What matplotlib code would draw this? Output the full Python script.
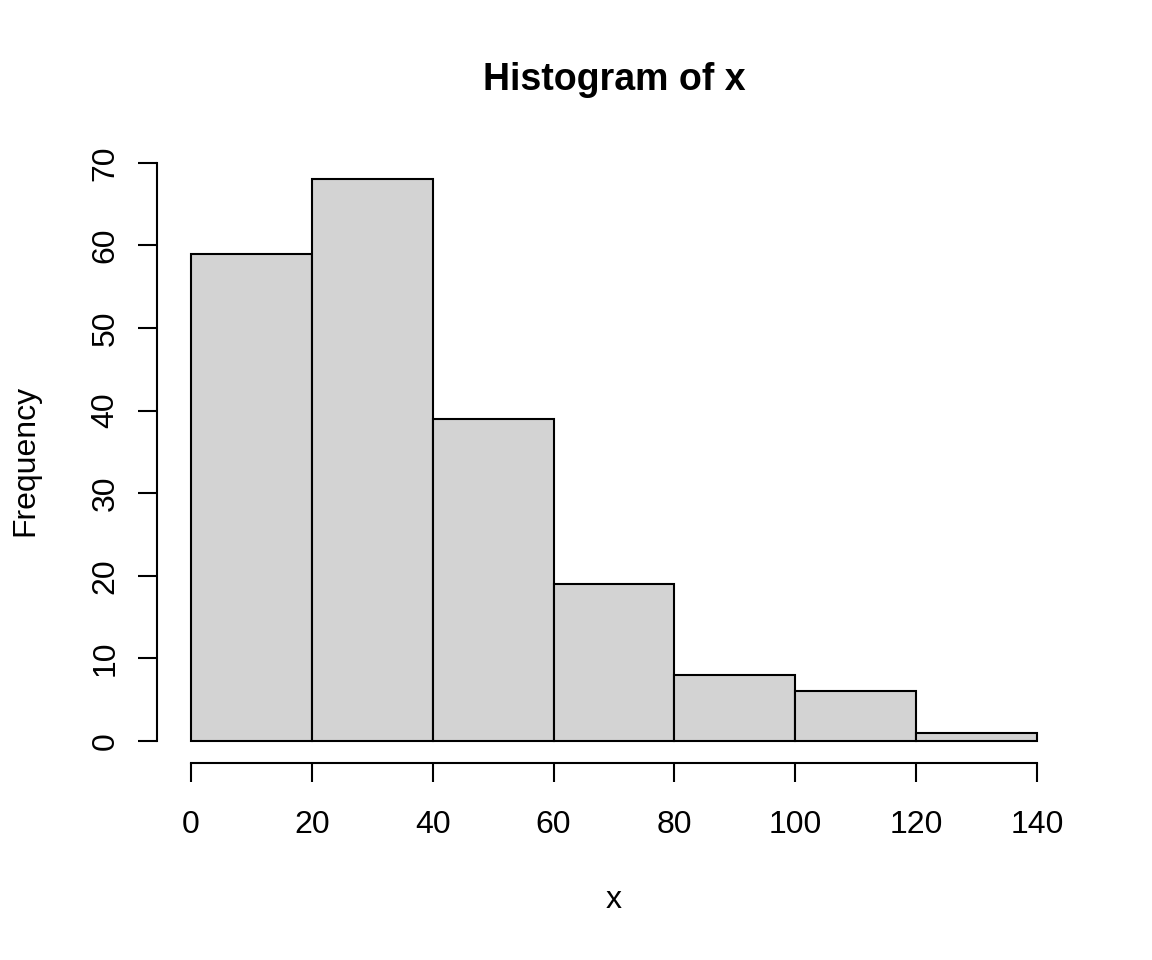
import numpy as np
import matplotlib.pyplot as plt

# counts (bins of width 20)
bin_edges = [0, 20, 40, 60, 80, 100, 120, 140]
counts = [59, 68, 39, 19, 8, 6, 1]
x_ticks = [0, 20, 40, 60, 80, 100, 120, 140]
y_ticks = [0, 10, 20, 30, 40, 50, 60, 70]

plt.rcParams['font.family'] = ['Liberation Sans', 'DejaVu Sans']

fig = plt.figure(figsize=(11.52, 9.6), dpi=100)
# plot region like R: data range plus 4% each side
ax_left, ax_bottom, ax_w, ax_h = 0.1365, 0.2047, 0.7930, 0.6318
ax = fig.add_axes([ax_left, ax_bottom, ax_w, ax_h])

left = np.array(bin_edges[:-1])
widths = np.diff(bin_edges)
ax.bar(left, counts, width=widths, align='edge', color='#D3D3D3',
       edgecolor='black', linewidth=1.5)

xr = bin_edges[-1] - bin_edges[0]
ax.set_xlim(bin_edges[0] - 0.04 * xr, bin_edges[-1] + 0.04 * xr)
ymax = max(counts)
ax.set_ylim(-0.04 * ymax, ymax * 1.04)

for s in ['top', 'right']:
    ax.spines[s].set_visible(False)
ax.spines['left'].set_bounds(y_ticks[0], y_ticks[-1])
ax.spines['bottom'].set_bounds(x_ticks[0], x_ticks[-1])
ax.spines['left'].set_linewidth(1.5)
ax.spines['bottom'].set_linewidth(1.5)

ax.set_xticks(x_ticks)
ax.set_yticks(y_ticks)
ax.tick_params(axis='both', length=13.5, width=1.5, labelsize=23)
ax.tick_params(axis='x', pad=20)
ax.tick_params(axis='y', pad=13)
for lbl in ax.get_yticklabels():
    lbl.set_rotation(90)
    lbl.set_va('center')

cx = ax_left + ax_w / 2
fig.text(cx, 1 - 80 / 960, 'Histogram of x', fontsize=27,
         fontweight='bold', ha='center', va='center')
fig.text(cx, 1 - 900 / 960, 'x', fontsize=23, ha='center', va='center')
fig.text(25 / 1152, ax_bottom + ax_h / 2, 'Frequency', fontsize=23,
         rotation=90, ha='center', va='center')

fig.savefig('out.png', dpi=100)
